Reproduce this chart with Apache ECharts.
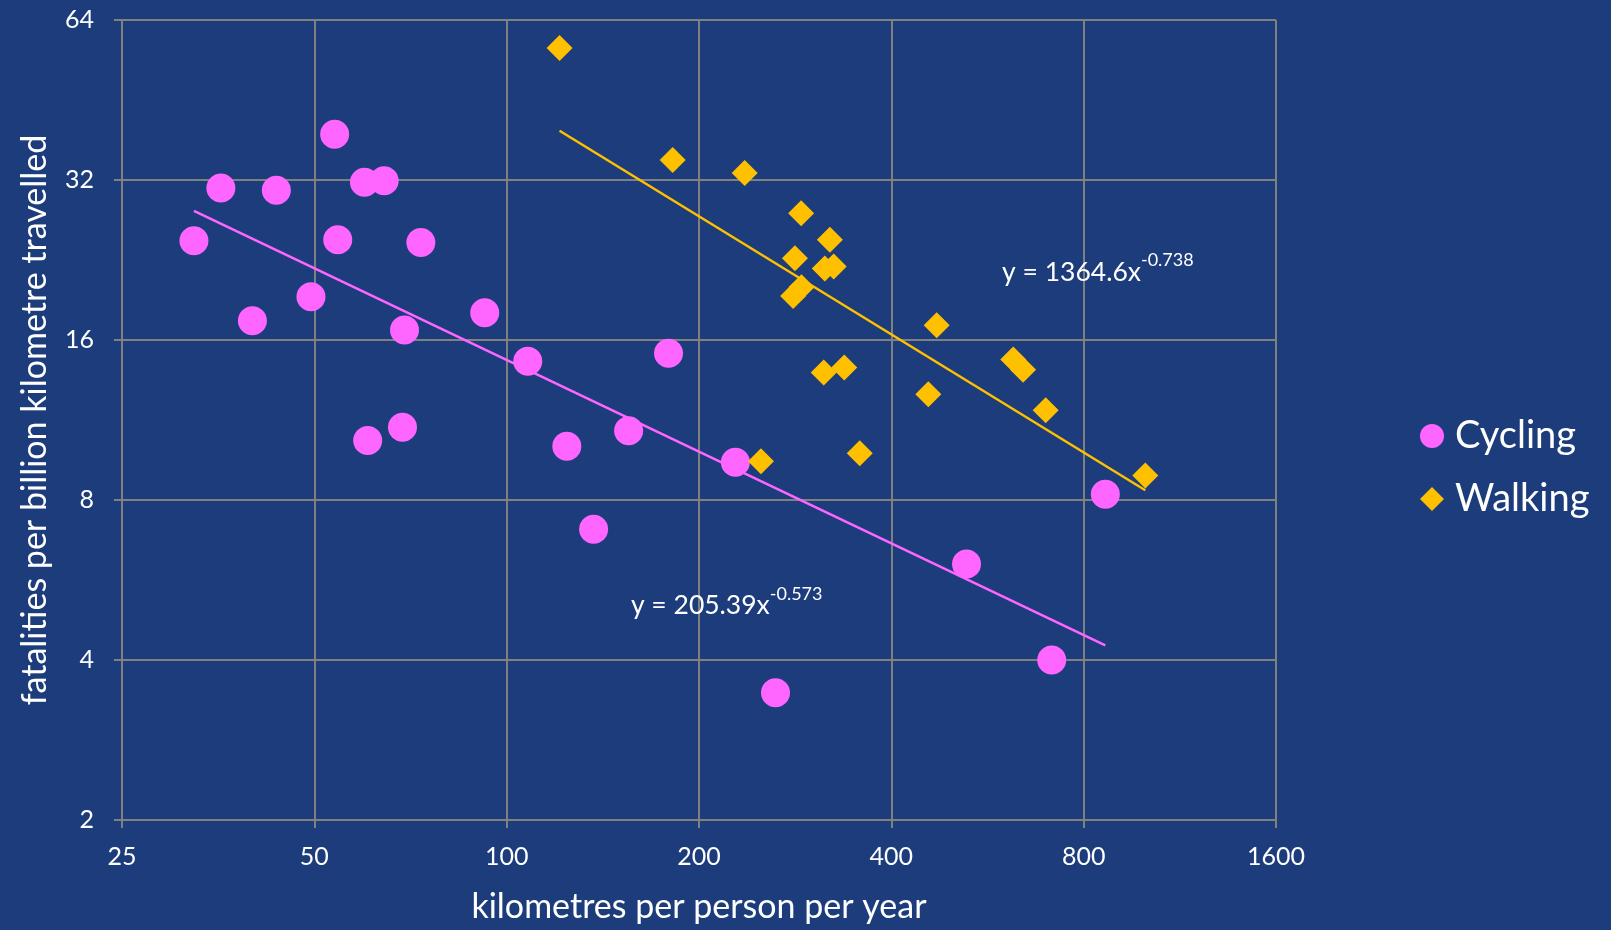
<!DOCTYPE html>
<html>
<head>
<meta charset="utf-8">
<script src="https://cdn.jsdelivr.net/npm/echarts@6/dist/echarts.min.js"></script>
<style>
  html, body { margin: 0; padding: 0; background: #1c3c7c; }
  #chart { width: 1611px; height: 930px; }
</style>
</head>
<body>
<div id="chart"></div>
<script>
// Distance travelled (km per person per year) vs fatalities per billion km
const cyclingKm    = [32.4, 35.7, 43.6, 40.0, 49.4, 53.8, 54.4, 59.9, 64.3, 73.4, 69.2, 60.6,
                      68.7, 92.4, 107.9, 124.2, 136.8, 155.2, 179.2, 228, 263.5, 524.5, 713, 865];
const cyclingFatal = [24.6, 30.9, 30.6, 17.4, 19.3, 39.0, 24.7, 31.7, 31.9, 24.4, 16.7, 10.35,
                      10.96, 18.0, 14.6, 10.1, 7.05, 10.8, 15.1, 9.42, 3.47, 6.06, 4.0, 8.2];

const walkingKm    = [121, 181.9, 235.8, 289, 320.5, 282.6, 314.7, 325, 280.8, 289.3, 313.5, 337.6,
                      250, 357, 471, 457, 620.7, 643, 697.6, 999];
const walkingFatal = [56.7, 34.9, 33.0, 27.7, 24.7, 22.8, 21.8, 22.0, 19.35, 20.1, 13.9, 14.2,
                      9.46, 9.8, 17.05, 12.65, 14.7, 14.07, 11.8, 8.9];

const xTicks = [25, 50, 100, 200, 400, 800, 1600];
const yTicks = [2, 4, 8, 16, 32, 64];

// Power-law fits y = a * x^b
const cyclingFit = { a: 205.39, b: -0.573, text: 'y = 205.39x', exp: '-0.573' };
const walkingFit = { a: 1364.6, b: -0.738, text: 'y = 1364.6x', exp: '-0.738' };
// Where each equation is written, in data units [km, fatalities]
const cyclingEqAt = [221, 5.14];
const walkingEqAt = [842, 21.8];

const PINK = '#ff66ff';
const GOLD = '#ffc000';
const GRID = '#808080';
const FONT = 'Lato';

// x axis is doubling-spaced from 25 km: position = log2(km / 25)
const xPos = km => Math.log2(km / xTicks[0]);
const pts = (xs, ys) => xs.map((x, i) => [xPos(x), ys[i]]);

function fitLine(fit, xs) {
  const lo = Math.min(...xs), hi = Math.max(...xs);
  return [lo, hi].map(x => [xPos(x), fit.a * Math.pow(x, fit.b)]);
}

function eqLabel(fit, at) {
  return {
    symbol: 'circle', symbolSize: 0, silent: true,
    data: [{ coord: [xPos(at[0]), at[1]] }],
    label: {
      show: true, position: 'inside',
      formatter: '{m|' + fit.text + '}{s|' + fit.exp + '}',
      rich: {
        m: { color: '#fff', fontFamily: FONT, fontSize: 26.5, lineHeight: 34, verticalAlign: 'bottom' },
        s: { color: '#fff', fontFamily: FONT, fontSize: 18, lineHeight: 20, verticalAlign: 'top' }
      }
    }
  };
}

const chart = echarts.init(document.getElementById('chart'));
chart.setOption({
  backgroundColor: '#1c3c7c',
  animation: false,
  grid: { left: 122, right: 335, top: 20, bottom: 110 },
  legend: {
    data: ['Cycling', 'Walking'],
    orient: 'vertical',
    left: 1415, top: 411,
    itemWidth: 24, itemHeight: 24, itemGap: 23,
    textStyle: { color: '#fff', fontFamily: FONT, fontSize: 38, lineHeight: 40, padding: [0, 0, 0, 6] }
  },
  xAxis: {
    type: 'value', min: 0, max: xTicks.length - 1, interval: 1,
    name: 'kilometres per person per year', nameLocation: 'middle', nameGap: 70,
    nameTextStyle: { color: '#fff', fontFamily: FONT, fontSize: 34 },
    axisLine: { show: true, lineStyle: { color: GRID, width: 2 } },
    axisTick: { show: true, length: 8, lineStyle: { color: GRID, width: 2 } },
    splitLine: { show: true, lineStyle: { color: GRID, width: 2 } },
    axisLabel: { color: '#fff', fontFamily: FONT, fontSize: 25, margin: 24,
                 formatter: v => String(xTicks[Math.round(v)]) }
  },
  yAxis: {
    type: 'log', logBase: 2, min: yTicks[0], max: yTicks[yTicks.length - 1],
    name: 'fatalities per billion kilometre travelled', nameLocation: 'middle', nameGap: 70,
    nameTextStyle: { color: '#fff', fontFamily: FONT, fontSize: 34 },
    axisLine: { show: true, lineStyle: { color: GRID, width: 2 } },
    axisTick: { show: true, length: 8, lineStyle: { color: GRID, width: 2 } },
    splitLine: { show: true, lineStyle: { color: GRID, width: 2 } },
    axisLabel: { color: '#fff', fontFamily: FONT, fontSize: 25, margin: 28,
                 formatter: v => String(Math.round(v)) }
  },
  series: [
    { name: 'Cycling', type: 'scatter', symbol: 'circle', symbolSize: 29,
      itemStyle: { color: PINK, opacity: 1 }, data: pts(cyclingKm, cyclingFatal), z: 2 },
    { name: 'Walking', type: 'scatter', symbol: 'diamond', symbolSize: 26,
      itemStyle: { color: GOLD, opacity: 1 }, data: pts(walkingKm, walkingFatal), z: 2 },
    { name: 'Cycling trend', type: 'line', data: fitLine(cyclingFit, cyclingKm), symbol: 'none',
      lineStyle: { color: PINK, width: 2.5 }, z: 3, markPoint: eqLabel(cyclingFit, cyclingEqAt) },
    { name: 'Walking trend', type: 'line', data: fitLine(walkingFit, walkingKm), symbol: 'none',
      lineStyle: { color: GOLD, width: 2.5 }, z: 3, markPoint: eqLabel(walkingFit, walkingEqAt) }
  ]
});
</script>
</body>
</html>
